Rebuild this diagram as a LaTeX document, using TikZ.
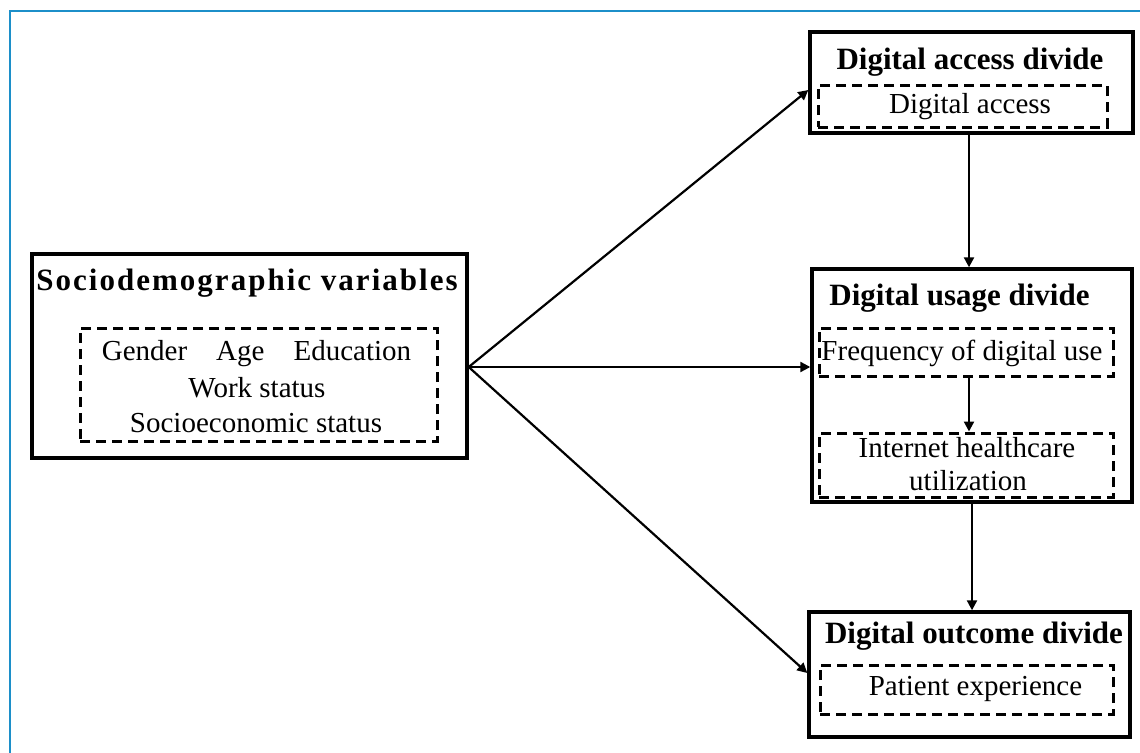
\documentclass[tikz,border=0pt]{standalone}
\usepackage{fontspec}
\setmainfont{Liberation Serif}
\usetikzlibrary{arrows.meta,calc}
\definecolor{frameblue}{RGB}{28,143,201}
\begin{document}
\begin{tikzpicture}[x=1pt,y=-1pt,
  outerbox/.style={draw=black, line width=3.4pt, inner sep=0pt},
  dashbox/.style={draw=black, line width=3pt, dash pattern=on 10pt off 6pt, inner sep=0pt},
  title/.style={font=\fontsize{31}{36}\selectfont\bfseries, anchor=base, inner sep=0pt},
  body/.style={font=\fontsize{29}{36}\selectfont, anchor=base, inner sep=0pt},
  arr/.style={-{Triangle[length=10pt,width=10pt]}, line width=2.2pt}]
\useasboundingbox (0,0) rectangle (1140,752);
\draw[frameblue, line width=2.4pt] (10,760) -- (10,11) -- (1150,11);
% Sociodemographic
\node[outerbox, minimum width=435pt, minimum height=204pt] (soc) at (249.5,356) {};
\node[title] (soct) at (247,290) {\addfontfeature{LetterSpace=6.5}Sociodemographic variables};
\node[dashbox, minimum width=357pt, minimum height=113pt] (socin) at (258.5,384.5) {};
\node[body] (l1) at (256.5,360) {Gender\quad Age\quad Education};
\node[body] (l2) at (257,397) {Work status};
\node[body] (l3) at (256,432) {Socioeconomic status};
% Access
\node[outerbox, minimum width=323pt, minimum height=101pt] (acc) at (971.5,82.5) {};
\node[title] (acct) at (970,70) {Digital access divide};
\node[dashbox, minimum width=289pt, minimum height=42pt] (accin) at (962.5,106) {};
\node[body] (acctx) at (970,113) {Digital access};
% Usage
\node[outerbox, minimum width=320pt, minimum height=233pt] (use) at (972,385.5) {};
\node[title] (uset) at (959.5,305) {Digital usage divide};
\node[dashbox, minimum width=294pt, minimum height=48pt] (freq) at (966,352) {};
\node[body] (freqt) at (962,360) {Frequency of digital use};
\node[dashbox, minimum width=294pt, minimum height=64pt] (net) at (966,465) {};
\node[body] (net1) at (967,457) {Internet healthcare};
\node[body] (net2) at (968,490) {utilization};
% Outcome
\node[outerbox, minimum width=321pt, minimum height=125pt] (out) at (969.5,674.5) {};
\node[title] (outt) at (974,643) {Digital outcome divide};
\node[dashbox, minimum width=293pt, minimum height=49pt] (outin) at (966.5,689.5) {};
\node[body] (outtx) at (975.5,695) {Patient experience};
% Connectors
\coordinate (src) at ([yshift=-11pt]soc.east);
\draw[arr] (src) -- ([yshift=-7.5pt]acc.west);
\draw[arr] (src) -- (src -| use.west);
\draw[arr] (src) -- ([yshift=1.5pt]out.west);
\draw[arr] ([xshift=-2.5pt]acc.south) -- ([xshift=-2.5pt]acc.south |- use.north);
\draw[arr] ([xshift=3pt]freq.south) -- ([xshift=3pt]freq.south |- net.north);
\draw[arr] (use.south) -- (use.south |- out.north);
\end{tikzpicture}
\end{document}
